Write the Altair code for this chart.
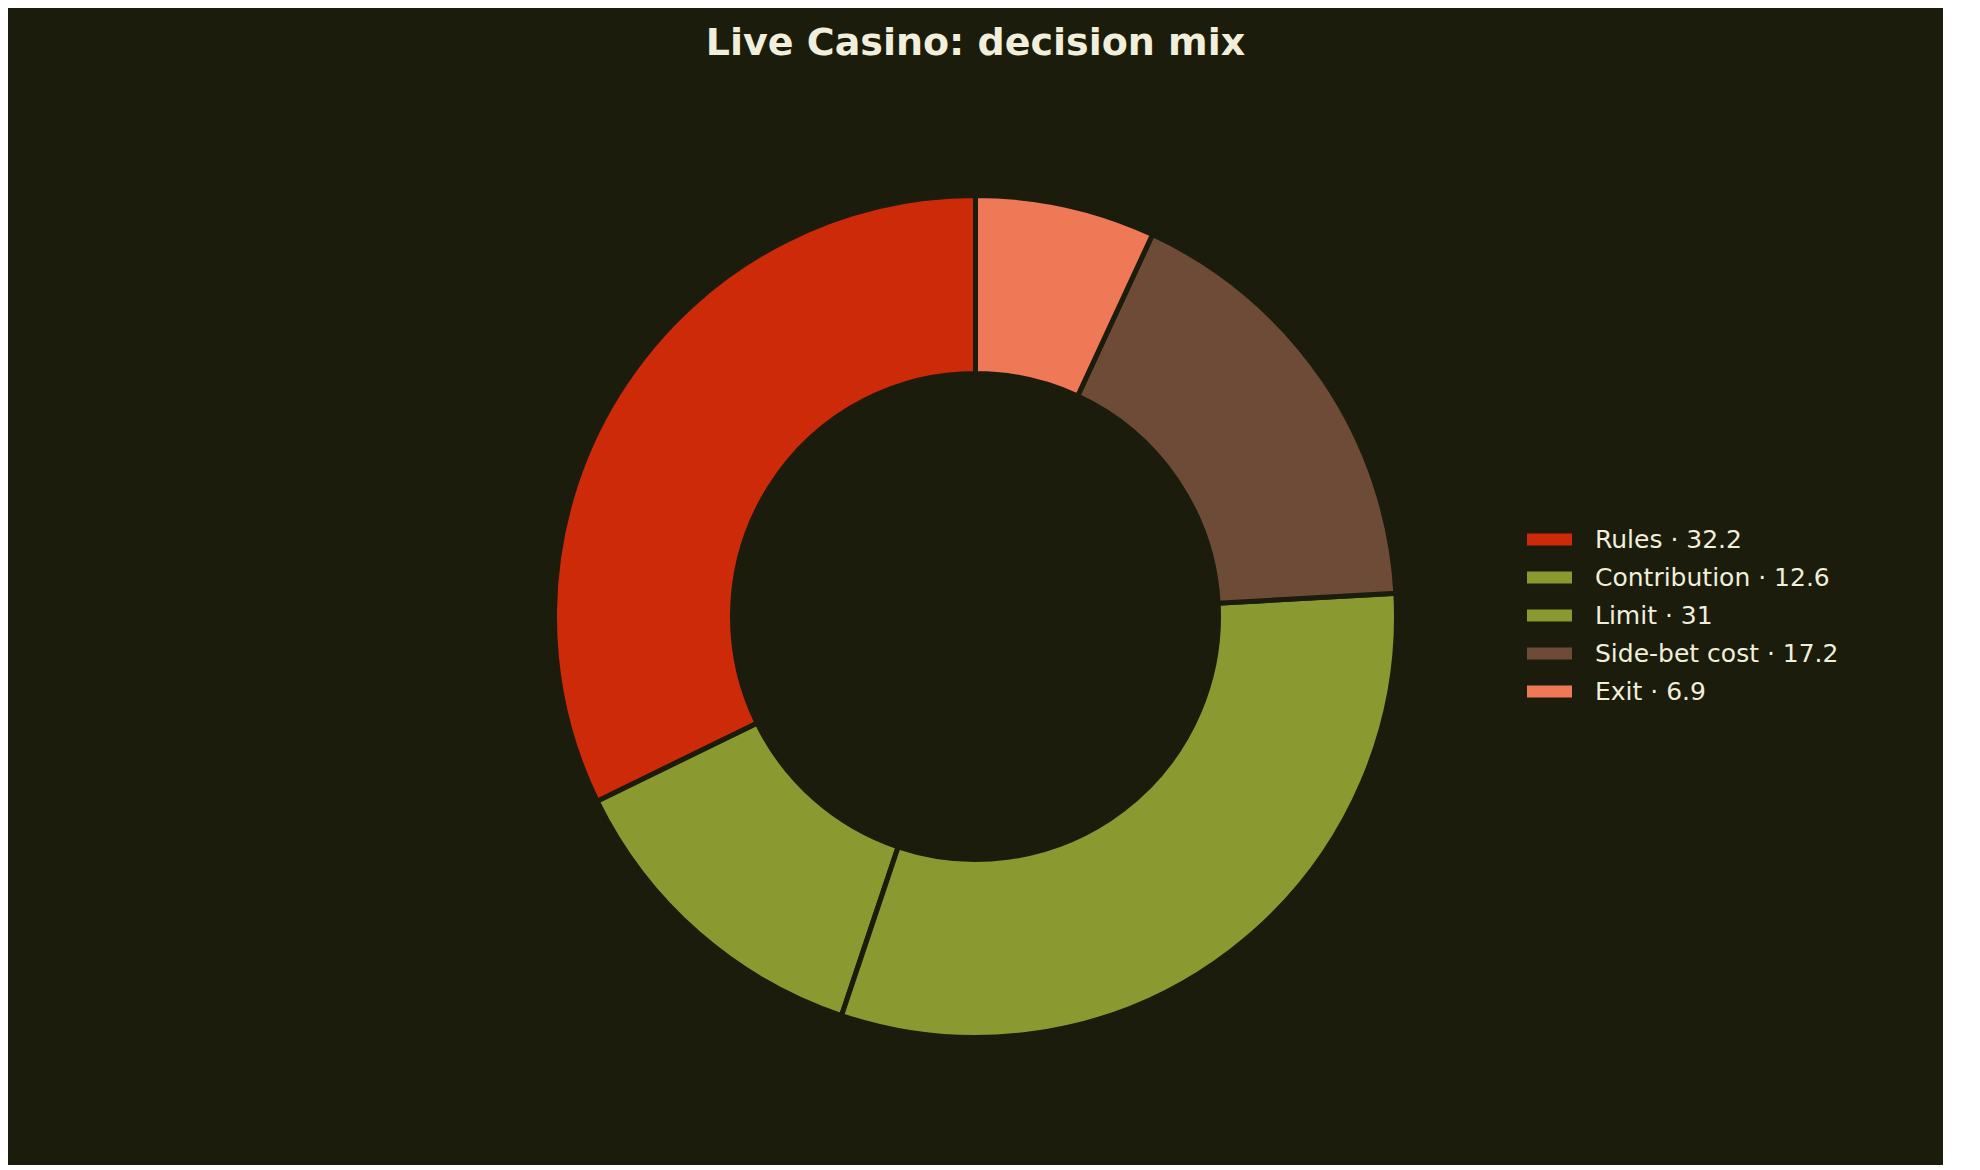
import altair as alt
import pandas as pd

categories = ["Rules", "Contribution", "Limit", "Side-bet cost", "Exit"]
values = [32.2, 12.6, 31, 17.2, 6.9]
colors = ["#cd2a09", "#8a9a30", "#8a9a30", "#6d4b36", "#ef7856"]

BG = "#1b1c0b"
TXT = "#f1eedb"

labels = [f"{c} · {v:g}" for c, v in zip(categories, values)]
df = pd.DataFrame({"label": labels, "value": values, "idx": list(range(len(values)))})

chart = (
    alt.Chart(df)
    .mark_arc(outerRadius=421, innerRadius=243, stroke=BG, strokeWidth=5)
    .encode(
        theta=alt.Theta("value:Q", stack=True),
        order=alt.Order("idx:Q", sort="descending"),
        color=alt.Color(
            "label:N",
            sort=labels,
            scale=alt.Scale(domain=labels, range=colors),
            legend=alt.Legend(
                title=None,
                orient="none",
                legendX=1519,
                legendY=449,
                symbolType="M-1,-0.267H1V0.267H-1Z",
                symbolSize=2025,
                symbolStrokeWidth=0,
                symbolOpacity=1,
                labelFont="DejaVu Sans",
                labelFontSize=25,
                labelColor=TXT,
                labelOffset=23,
                rowPadding=2,
                labelLimit=600,
            ),
        ),
    )
    .properties(
        width=1935,
        height=1097,
        padding={"top": 60, "left": 0, "right": 0, "bottom": 0},
        autosize=alt.AutoSizeParams(type="none"),
        background=BG,
        title=alt.TitleParams(
            "Live Casino: decision mix",
            font="DejaVu Sans",
            fontSize=38,
            fontWeight="bold",
            color=TXT,
            anchor="middle",
            baseline="alphabetic",
            offset=-25,
        ),
    )
    .configure_view(stroke=None)
)

chart.save("out.html", embed_options={"renderer": "svg", "actions": False})
